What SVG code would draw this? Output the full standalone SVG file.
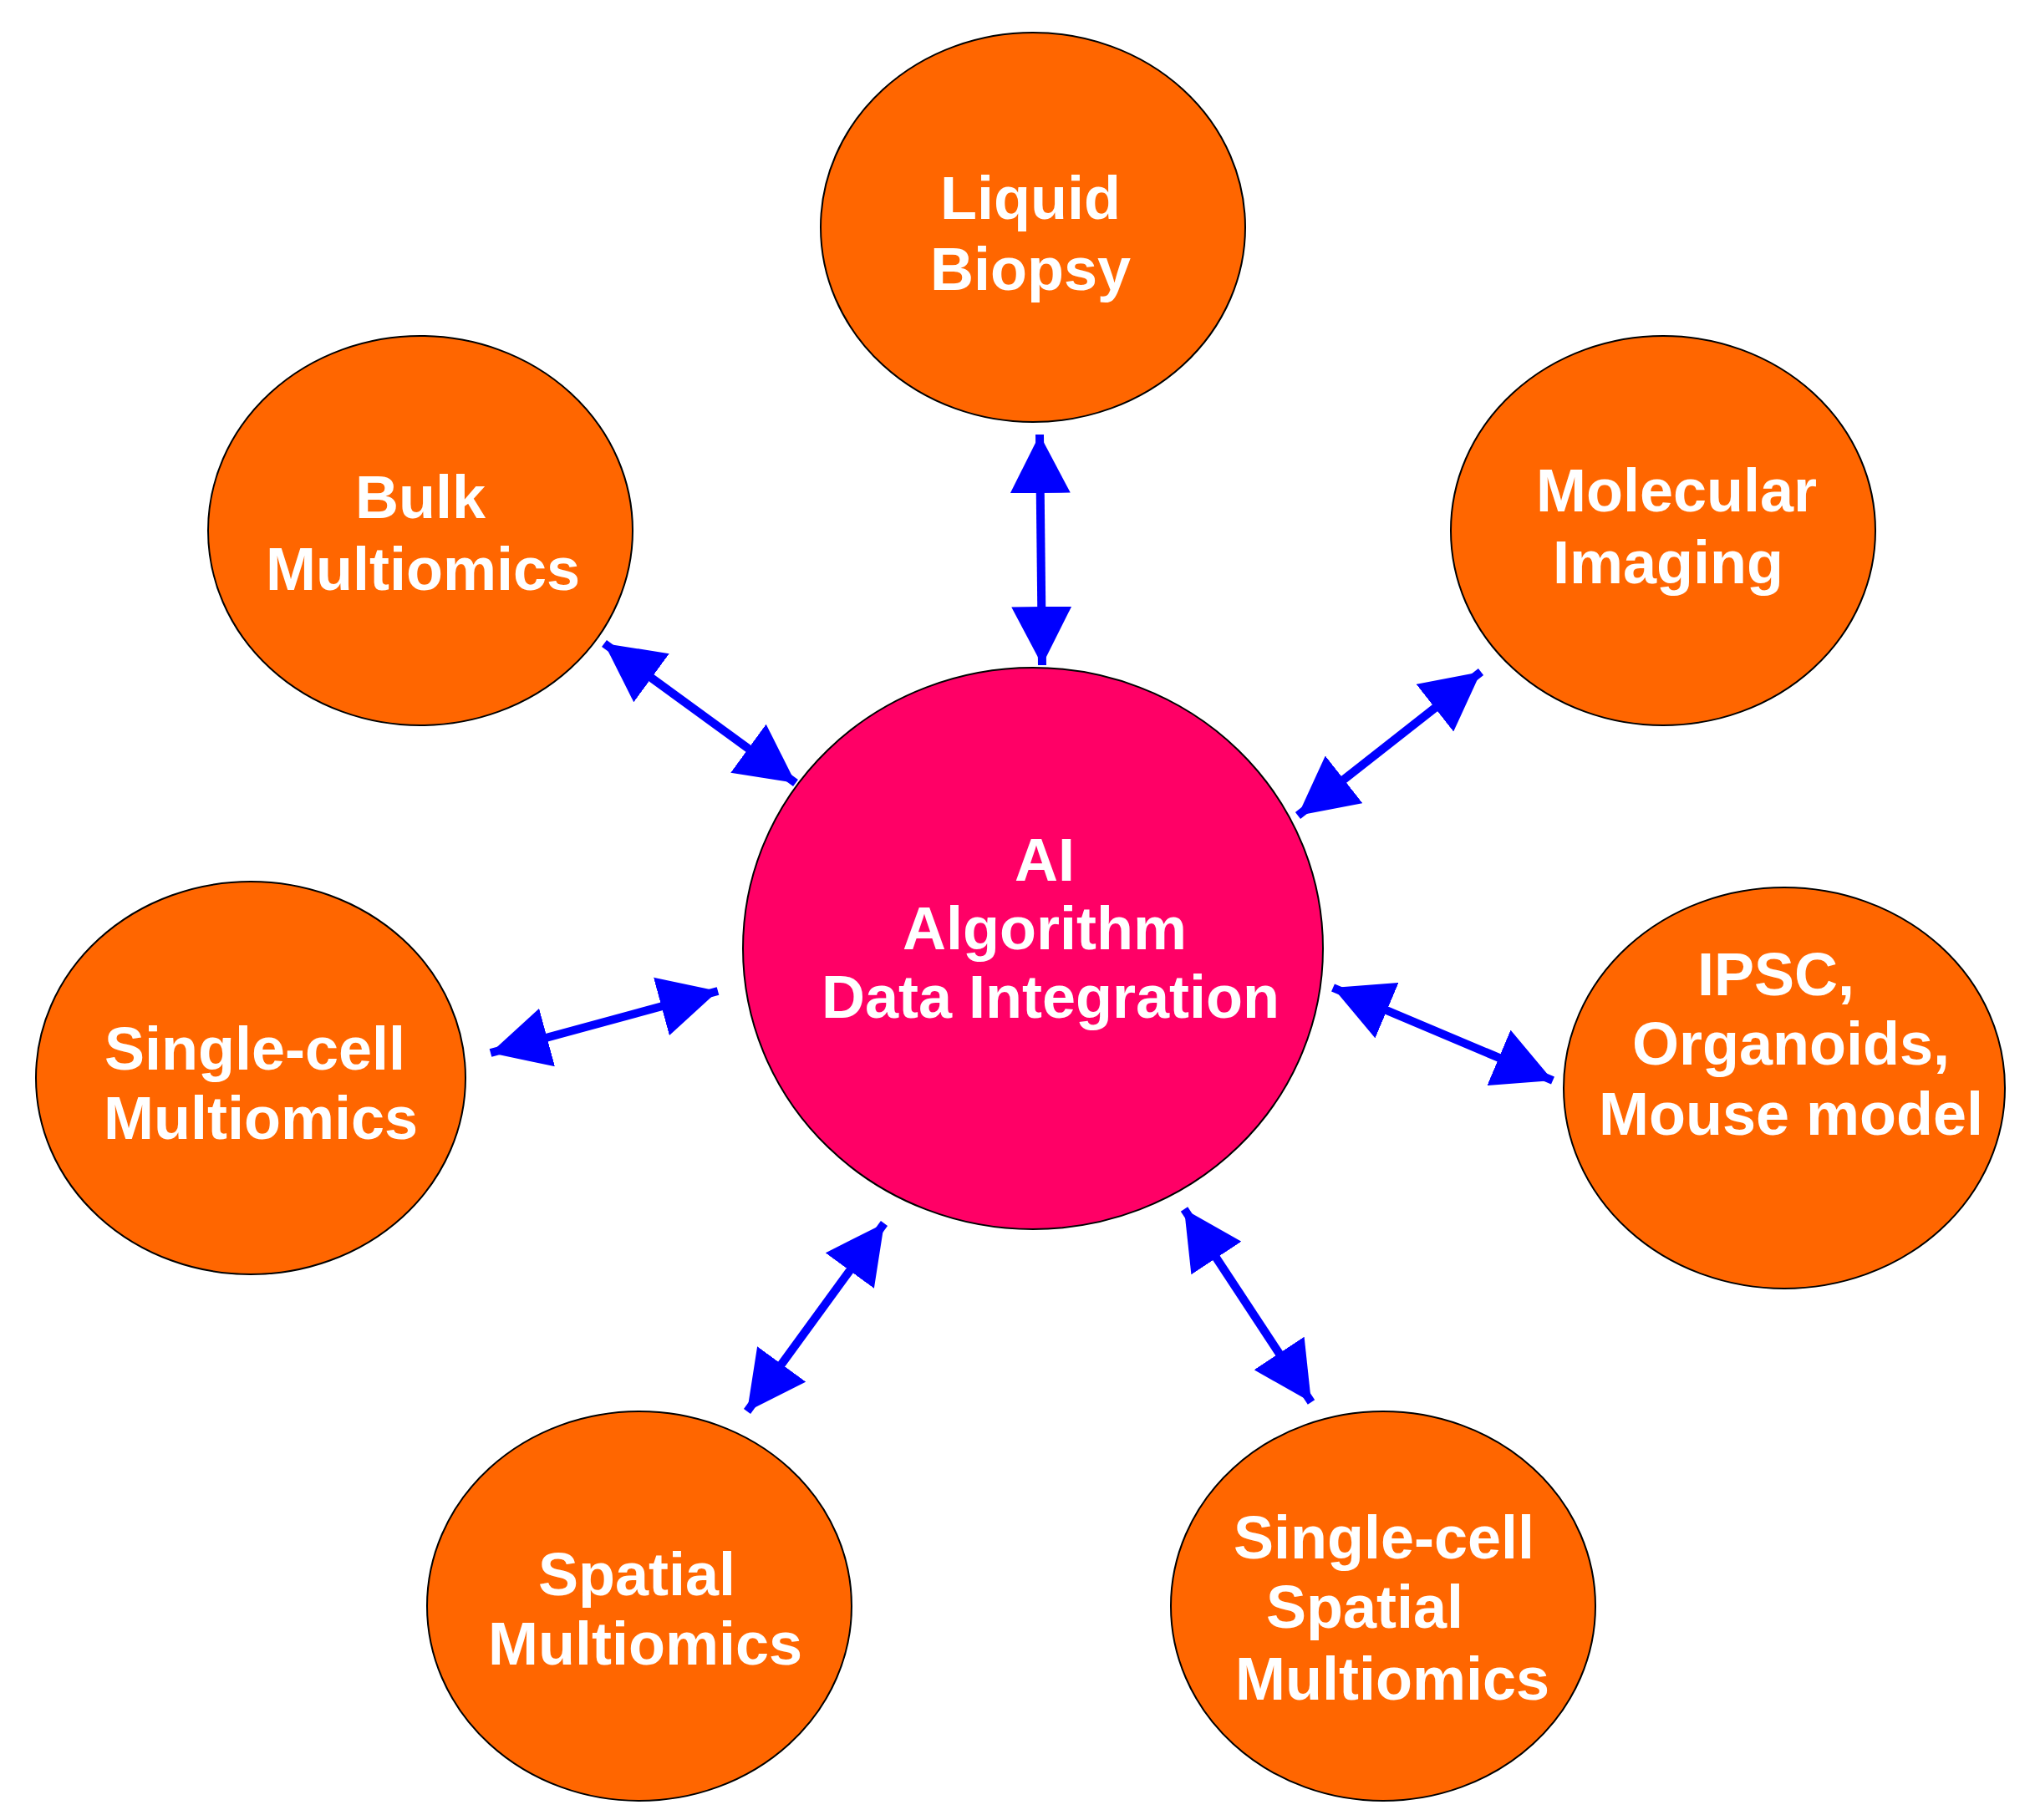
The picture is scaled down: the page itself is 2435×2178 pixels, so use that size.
<svg xmlns="http://www.w3.org/2000/svg" width="2435" height="2178" viewBox="0 0 2435 2178">
<style>
.o{fill:#FF6600;stroke:#000;stroke-width:2}
.c{fill:#FF0066;stroke:#000;stroke-width:2}
text{font-family:"Liberation Sans",Arial,sans-serif;font-weight:bold;font-size:72px;fill:#fff;text-anchor:middle}
.a{stroke:#0000FF;stroke-width:10;fill:none;marker-start:url(#h);marker-end:url(#h)}
</style>
<defs><marker id="h" markerUnits="userSpaceOnUse" markerWidth="70" markerHeight="72" refX="70" refY="36" orient="auto-start-reverse"><path d="M0,0L70,36L0,72z" fill="#0000FF"/></marker></defs>
<rect width="2435" height="2178" fill="#fff"/>
<g id="connectors">
<path class="a" d="M1244,520L1247,796"/>
<path class="a" d="M723,770L952,937"/>
<path class="a" d="M1772,804L1553,976"/>
<path class="a" d="M587,1260L859,1186"/>
<path class="a" d="M1595,1182L1858,1293"/>
<path class="a" d="M894,1689L1058,1464"/>
<path class="a" d="M1417,1447L1569,1678"/>
</g>
<g id="center"><ellipse class="c" cx="1236" cy="1135" rx="347" ry="336"/><text x="1250" y="1054">AI</text><text x="1250" y="1136">Algorithm</text><text x="1257" y="1218">Data Integration</text></g>
<g id="liquid"><ellipse class="o" cx="1236" cy="272" rx="254" ry="233"/><text x="1233" y="262">Liquid</text><text x="1233" y="347">Biopsy</text></g>
<g id="bulk"><ellipse class="o" cx="503" cy="635" rx="254" ry="233"/><text x="503" y="620">Bulk</text><text x="506" y="706">Multiomics</text></g>
<g id="molecular"><ellipse class="o" cx="1990" cy="635" rx="254" ry="233"/><text x="2006" y="612">Molecular</text><text x="1996" y="698">Imaging</text></g>
<g id="singlecell"><ellipse class="o" cx="300" cy="1290" rx="257" ry="235"/><text x="305" y="1280">Single-cell</text><text x="312" y="1363">Multiomics</text></g>
<g id="ipsc"><ellipse class="o" cx="2135" cy="1302" rx="264" ry="240"/><text x="2125" y="1191">IPSC,</text><text x="2143" y="1274">Organoids,</text><text x="2143" y="1358">Mouse model</text></g>
<g id="spatial"><ellipse class="o" cx="765" cy="1922" rx="254" ry="233"/><text x="762" y="1909">Spatial</text><text x="772" y="1992">Multiomics</text></g>
<g id="scspatial"><ellipse class="o" cx="1655" cy="1922" rx="254" ry="233"/><text x="1656" y="1865">Single-cell</text><text x="1633" y="1948">Spatial</text><text x="1666" y="2034">Multiomics</text></g>
</svg>
